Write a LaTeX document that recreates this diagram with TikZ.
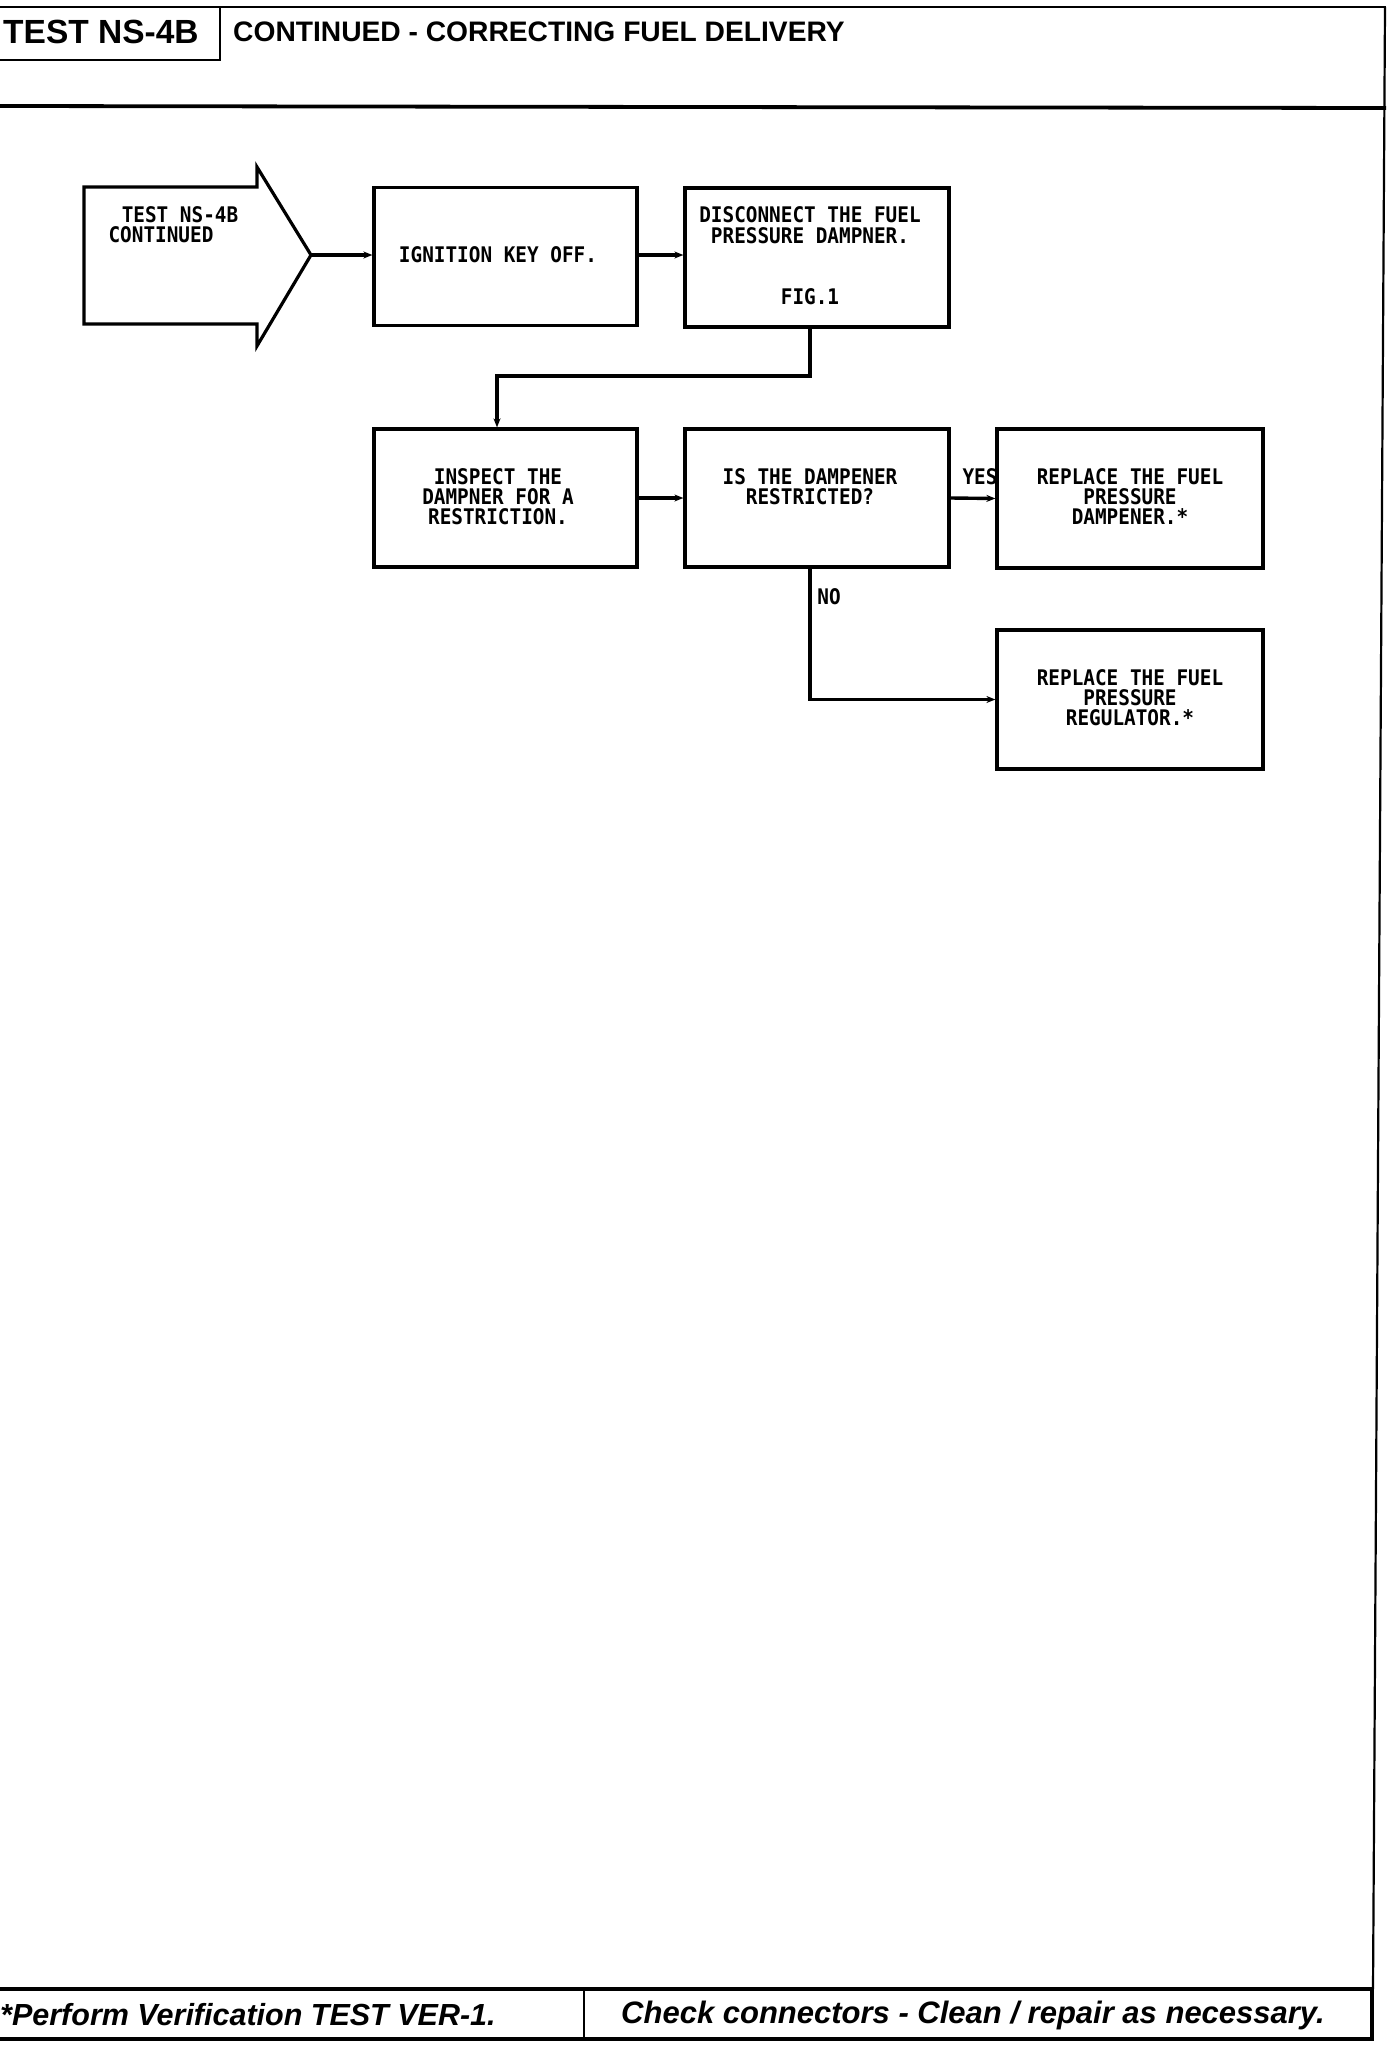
\documentclass[tikz,border=0pt]{standalone}
\usepackage{fontspec}
\setmainfont{Liberation Sans}
\newfontfamily\plotfont[FakeStretch=0.9]{DejaVu Sans Mono}
\usetikzlibrary{arrows.meta}
\tikzset{
  stepbox/.style={draw, line width=3.2pt, minimum width=263pt, minimum height=138pt, inner sep=0pt},
  conn/.style={line width=3.4pt, -{Stealth[length=9pt,width=7pt]}},
  boxtext/.style={font=\plotfont\bfseries\fontsize{21.5}{20.4}\selectfont, align=center, inner sep=0pt, anchor=north},
  rule/.style={line width=3.8pt},
  thinrule/.style={line width=2.2pt},
}
\begin{document}
\begin{tikzpicture}[x=1pt,y=-1pt]
\useasboundingbox (0,0) rectangle (1392,2050);
% header
\draw[thinrule] (0,7) -- (1386,7);
\draw[thinrule] (220,7) -- (220,60) -- (0,60);
\draw[rule] (0,106) -- (1386,108);
\draw[thinrule] (1385,7) -- (1373,1989);
\node[anchor=west, inner sep=0pt, font=\bfseries\fontsize{33.5}{34}\selectfont] (hdr) at (3,32) {TEST NS-4B};
\node[anchor=west, inner sep=0pt, font=\bfseries\fontsize{28.2}{29}\selectfont] (title) at (233,32) {CONTINUED - CORRECTING FUEL DELIVERY};
% footer
\draw[rule] (0,1989) -- (1374,1989);
\draw[rule] (0,2039) -- (1374,2039);
\draw[thinrule] (584,1989) -- (584,2039);
\draw[rule] (1372,1989) -- (1372,2040);
\node[anchor=west, inner sep=0pt, font=\bfseries\itshape\fontsize{30.5}{31}\selectfont] (f1) at (0,2015) {*Perform Verification TEST VER-1.};
\node[anchor=west, inner sep=0pt, font=\bfseries\itshape\fontsize{31}{31}\selectfont] (f2) at (621,2015) {Check connectors - Clean / repair as necessary.};
% entry arrow
\draw[line width=3.2pt, line join=miter] (84,187) -- (257,187) -- (257,167) -- (311,255) -- (257,346) -- (257,324) -- (84,324) -- cycle;
\coordinate (tip) at (311,255);
\node[boxtext] (a1) at (180,206.5) {TEST NS-4B};
\node[boxtext] (a2) at (161,226.5) {CONTINUED};
% boxes
\node[stepbox] (b1) at (505.5,256.5) {};
\node[boxtext] (t1) at (498,246) {IGNITION KEY OFF.};
\node[stepbox, minimum width=264pt, minimum height=139pt] (b2) at (817,257.5) {};
\node[boxtext] (t2) at (810,206.5) {DISCONNECT THE FUEL\\PRESSURE DAMPNER.};
\node[boxtext] (t2b) at (810,288) {FIG.1};
\node[stepbox] (b3) at (505.5,498) {};
\node[boxtext] (t3) at (498,468) {INSPECT THE\\DAMPNER FOR A\\RESTRICTION.};
\node[stepbox, minimum width=264pt] (b4) at (817,498) {};
\node[boxtext] (t4) at (810,468) {IS THE DAMPENER\\RESTRICTED?};
\node[stepbox, minimum width=266pt, minimum height=139pt] (b5) at (1130,498.5) {};
\node[boxtext] (t5) at (1130,468) {REPLACE THE FUEL\\PRESSURE\\DAMPENER.*};
\node[stepbox, minimum width=266pt, minimum height=139pt] (b6) at (1130,699.5) {};
\node[boxtext] (t6) at (1130,669) {REPLACE THE FUEL\\PRESSURE\\REGULATOR.*};
% connectors
\draw[conn] (tip) -- (b1.west |- tip);
\draw[conn] (b1.east |- tip) -- (b2.west |- tip);
\coordinate (j1) at (497,376);
\draw[conn] ([xshift=-7pt]b2.south) |- (j1) -- (j1 |- b3.north);
\draw[conn] (b3.east) -- (b4.west);
\draw[conn] (b4.east) -- (b5.west);
\draw[conn] ([xshift=-7pt]b4.south) |- (b6.west);
\node[boxtext] (yes) at (980,468) {YES};
\node[boxtext] (no) at (829,588) {NO};
\end{tikzpicture}
\end{document}
